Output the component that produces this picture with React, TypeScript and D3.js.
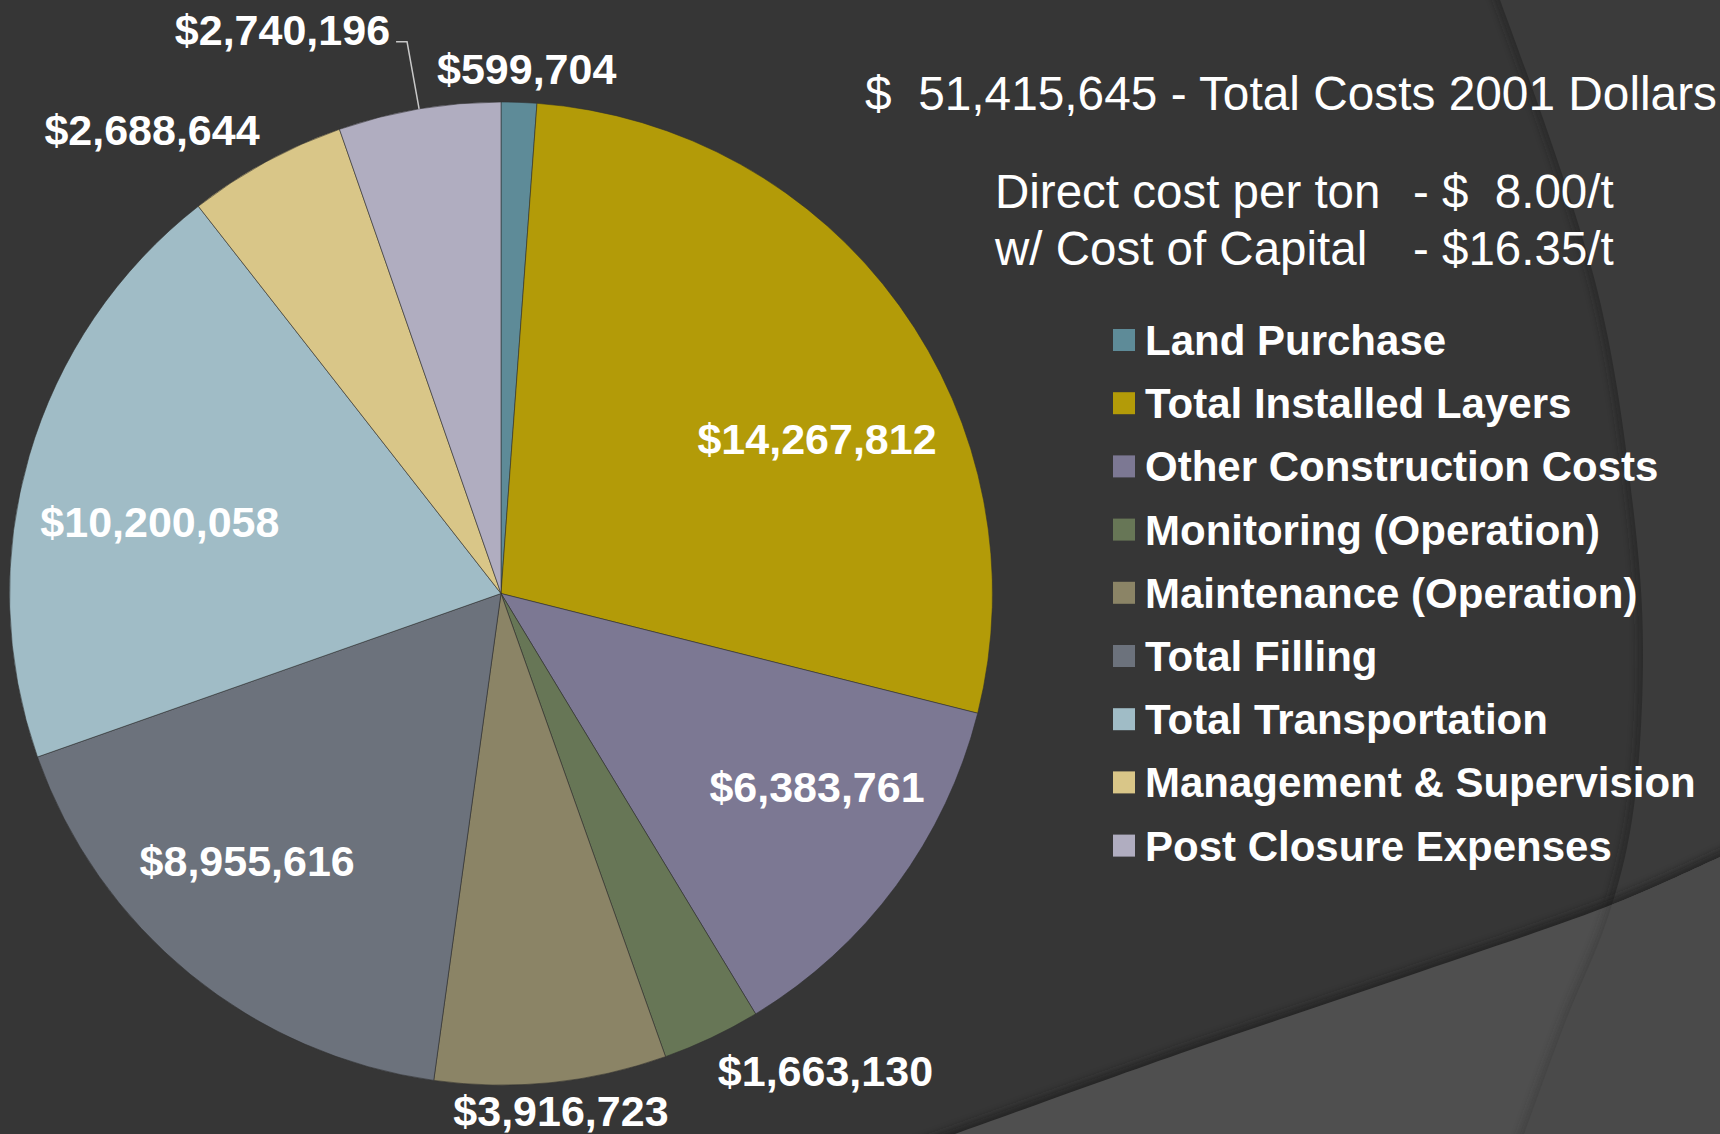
import React, { useEffect, useRef } from 'react';
import * as d3 from 'd3';

// cost breakdown, 2001 dollars
const categories = [
  'Land Purchase',
  'Total Installed Layers',
  'Other Construction Costs',
  'Monitoring (Operation)',
  'Maintenance (Operation)',
  'Total Filling',
  'Total Transportation',
  'Management & Supervision',
  'Post Closure Expenses',
];
const costs = [599704, 14267812, 6383761, 1663130, 3916723, 8955616, 10200058, 2688644, 2740196];
const sliceColors = ['#5e8b98', '#b39b08', '#7c7893', '#677656', '#8b8466', '#6c727c', '#a0bcc6', '#d9c688', '#b0adc0'];

// label placement: nudge (deg) from slice middle, distance as share of radius
const labelNudge = [0.7, 9.75, -4.95, -8.8, -0.76, 4.3, -4.5, -8.4, -11.6];
const labelRadius = [1.068, 0.716, 0.754, 1.175, 1.06, 0.75, 0.709, 1.18, 1.23];
const withLeader = [false, false, false, false, false, false, false, false, true];

const totalLine = '$  51,415,645 - Total Costs 2001 Dollars';
const perTonNames = ['Direct cost per ton', 'w/ Cost of Capital'];
const perTonValues = ['- $  8.00/t', '- $16.35/t'];

const W = 1720, H = 1134;
const FONT = '"Liberation Sans", Arial, sans-serif';

export default function App() {
  const svgRef = useRef<SVGSVGElement>(null);

  useEffect(() => {
    const svg = d3.select(svgRef.current);
    svg.selectAll('*').remove();

    const defs = svg.append('defs');
    defs.append('filter').attr('id', 'soft')
      .attr('x', '-10%').attr('y', '-10%').attr('width', '120%').attr('height', '120%')
      .append('feGaussianBlur').attr('stdDeviation', 4);

    // background with the two swooping shapes
    svg.append('rect').attr('width', W).attr('height', H).attr('fill', '#363636');

    const line = d3.line().curve(d3.curveCatmullRom);
    const sidePts: [number, number][] = [[1496, -10], [1500, 0], [1597, 289], [1633, 506], [1643, 651], [1632, 820], [1607, 920], [1566, 1020], [1524, 1134], [1520, 1145]];
    const bandPts: [number, number][] = [[910, 1150], [955, 1134], [1190, 1050], [1405, 977], [1616, 903], [1720, 857], [1740, 848]];
    const sideEdge = line(sidePts) as string;
    const bandEdge = line(bandPts) as string;
    const sideShape = `${sideEdge}L1730,1145L1730,-10Z`;
    const bandShape = `${bandEdge}L1740,1150Z`;

    svg.append('path').attr('d', sideEdge).attr('fill', 'none')
      .attr('stroke', '#1c1c1c').attr('stroke-width', 8).attr('opacity', 0.6)
      .attr('filter', 'url(#soft)');
    svg.append('path').attr('d', sideShape).attr('fill', '#3b3b3b');

    svg.append('path').attr('d', bandEdge).attr('fill', 'none')
      .attr('stroke', '#1c1c1c').attr('stroke-width', 10).attr('opacity', 0.7)
      .attr('filter', 'url(#soft)');
    svg.append('path').attr('d', bandShape).attr('fill', '#4f4f4f');

    defs.append('clipPath').attr('id', 'band-clip').append('path').attr('d', bandShape);
    const bandSide = svg.append('g').attr('clip-path', 'url(#band-clip)');
    bandSide.append('path').attr('d', sideEdge).attr('fill', 'none')
      .attr('stroke', '#2a2a2a').attr('stroke-width', 6).attr('opacity', 0.5)
      .attr('filter', 'url(#soft)');
    bandSide.append('path').attr('d', sideShape).attr('fill', '#4a4a4a');

    // pie
    const cx = 501, cy = 593.5, r = 491.5;
    const pie = d3.pie<number>().sort(null).value(d => d);
    const arcs = pie(costs);
    const arc = d3.arc<d3.PieArcDatum<number>>().innerRadius(0).outerRadius(r);

    const g = svg.append('g').attr('transform', `translate(${cx},${cy})`);
    g.selectAll('path.slice')
      .data(arcs)
      .join('path')
        .attr('class', 'slice')
        .attr('d', arc)
        .attr('fill', (d, i) => sliceColors[i])
        .attr('stroke', 'rgba(45,45,45,0.55)')
        .attr('stroke-width', 1);

    // data labels
    const fmt = d3.format(',');
    const polar = (a: number, dist: number): [number, number] => [dist * Math.sin(a), -dist * Math.cos(a)];

    arcs.forEach((d, i) => {
      const mid = (d.startAngle + d.endAngle) / 2;
      const [lx, ly] = polar(mid + labelNudge[i] * Math.PI / 180, labelRadius[i] * r);
      const t = g.append('text')
        .attr('x', lx).attr('y', ly + 15)
        .attr('text-anchor', 'middle')
        .attr('font-family', FONT)
        .attr('font-weight', 'bold')
        .attr('font-size', 43)
        .attr('fill', '#ffffff')
        .text(`$${fmt(costs[i])}`);

      if (withLeader[i]) {
        const half = (t.node() as SVGTextElement).getComputedTextLength() / 2;
        const [ex, ey] = polar(mid, r);
        const sx = lx + half + 6;
        const sy = ly + 12;
        g.append('polyline')
          .attr('points', `${sx},${sy} ${sx + 11},${sy} ${ex},${ey}`)
          .attr('fill', 'none')
          .attr('stroke', '#c8c8c8')
          .attr('stroke-width', 1.5);
      }
    });

    // header text
    const txt = (x: number, y: number, s: string, size: number, weight = 'normal') =>
      svg.append('text')
        .attr('x', x).attr('y', y)
        .attr('font-family', FONT)
        .attr('font-size', size)
        .attr('font-weight', weight)
        .attr('fill', '#ffffff')
        .style('white-space', 'pre')
        .text(s);

    txt(865, 110, totalLine, 47.8);
    perTonNames.forEach((s, i) => txt(995, 208 + i * 57, s, 47.5));
    perTonValues.forEach((s, i) => txt(1413, 208 + i * 57, s, 47.5));

    // legend
    const legendY = d3.scaleLinear().domain([0, categories.length - 1]).range([340, 845.6]);
    const legend = svg.append('g');
    categories.forEach((c, i) => {
      const y = legendY(i);
      legend.append('rect')
        .attr('x', 1113).attr('y', y - 11)
        .attr('width', 22).attr('height', 22)
        .attr('fill', sliceColors[i]);
      legend.append('text')
        .attr('x', 1145).attr('y', y + 15)
        .attr('font-family', FONT)
        .attr('font-weight', 'bold')
        .attr('font-size', 42)
        .attr('fill', '#ffffff')
        .text(c);
    });
  }, []);

  return (
    <div style={{ position: 'absolute', left: 0, top: 0, width: W, height: H, overflow: 'hidden' }}>
      <svg ref={svgRef} width={W} height={H} style={{ display: 'block' }} />
    </div>
  );
}
